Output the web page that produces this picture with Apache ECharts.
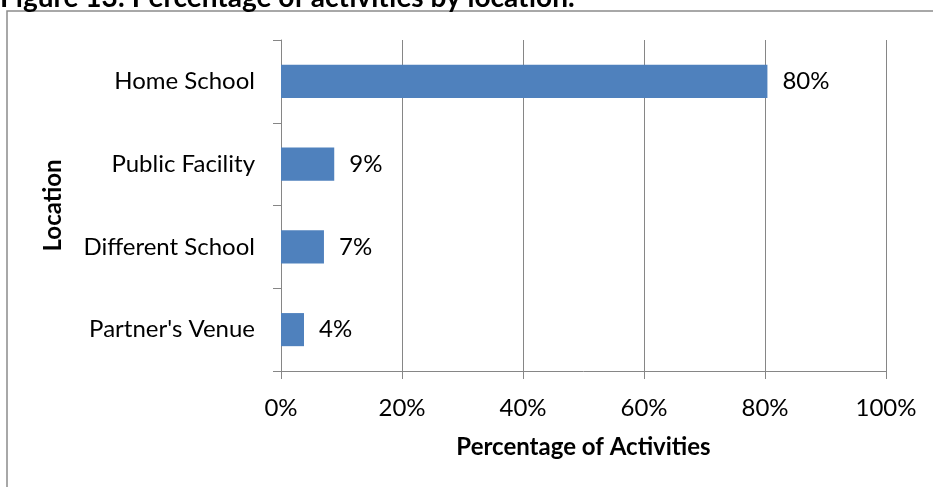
<!DOCTYPE html>
<html>
<head>
<meta charset="utf-8">
<script src="https://cdn.jsdelivr.net/npm/echarts@6/dist/echarts.min.js"></script>
<style>
  html, body { margin: 0; padding: 0; background: #fff; }
  #chart { width: 933px; height: 487px; }
</style>
</head>
<body>
<div id="chart"></div>
<script>
const categories = ['Home School', 'Public Facility', 'Different School', "Partner's Venue"];
const shares = [80.4, 8.8, 7.1, 3.8];
const xTicks = [0, 20, 40, 60, 80, 100];

const chart = echarts.init(document.getElementById('chart'));
const font = 'Lato, "Noto Sans", sans-serif';
const gray = '#868686';

chart.setOption({
  animation: false,
  textStyle: { fontFamily: font },
  graphic: [
    {
      type: 'rect',
      shape: { x: 7, y: 11, width: 1200, height: 1000 },
      style: { fill: 'none', stroke: '#8c8c8c', lineWidth: 1.5 },
      silent: true
    },
    {
      type: 'text',
      x: 0,
      y: 12,
      style: {
        text: 'Figure 13: Percentage of activities by location.',
        font: 'bold 28px ' + font,
        fill: '#000',
        verticalAlign: 'bottom'
      }
    }
  ],
  grid: { left: 281, right: 47, top: 40, bottom: 116 },
  xAxis: {
    type: 'value',
    min: 0,
    max: 100,
    interval: 20,
    name: 'Percentage of Activities',
    nameLocation: 'middle',
    nameGap: 64,
    nameTextStyle: { fontSize: 24, fontWeight: 'bold', color: '#000', fontFamily: font },
    axisLine: { show: true, lineStyle: { color: gray, width: 1 } },
    axisTick: { show: true, length: 8, lineStyle: { color: gray } },
    splitLine: { show: true, lineStyle: { color: gray, width: 1 } },
    axisLabel: {
      margin: 25,
      fontSize: 24,
      color: '#000',
      formatter: v => (xTicks.includes(v) ? v + '%' : '')
    }
  },
  yAxis: {
    type: 'category',
    inverse: true,
    data: categories,
    name: 'Location',
    nameLocation: 'middle',
    nameGap: 216,
    nameRotate: 90,
    nameTextStyle: { fontSize: 24, fontWeight: 'bold', color: '#000', fontFamily: font },
    axisLine: { show: true, lineStyle: { color: gray, width: 1 } },
    axisTick: { show: true, length: 8, lineStyle: { color: gray } },
    axisLabel: { margin: 26, fontSize: 24, color: '#000' }
  },
  series: [{
    type: 'bar',
    data: shares,
    barCategoryGap: '60%',
    itemStyle: { color: '#4F81BD' },
    label: {
      show: true,
      position: 'right',
      distance: 15,
      fontSize: 24,
      color: '#000',
      formatter: p => Math.round(p.value) + '%'
    }
  }]
});
</script>
</body>
</html>
